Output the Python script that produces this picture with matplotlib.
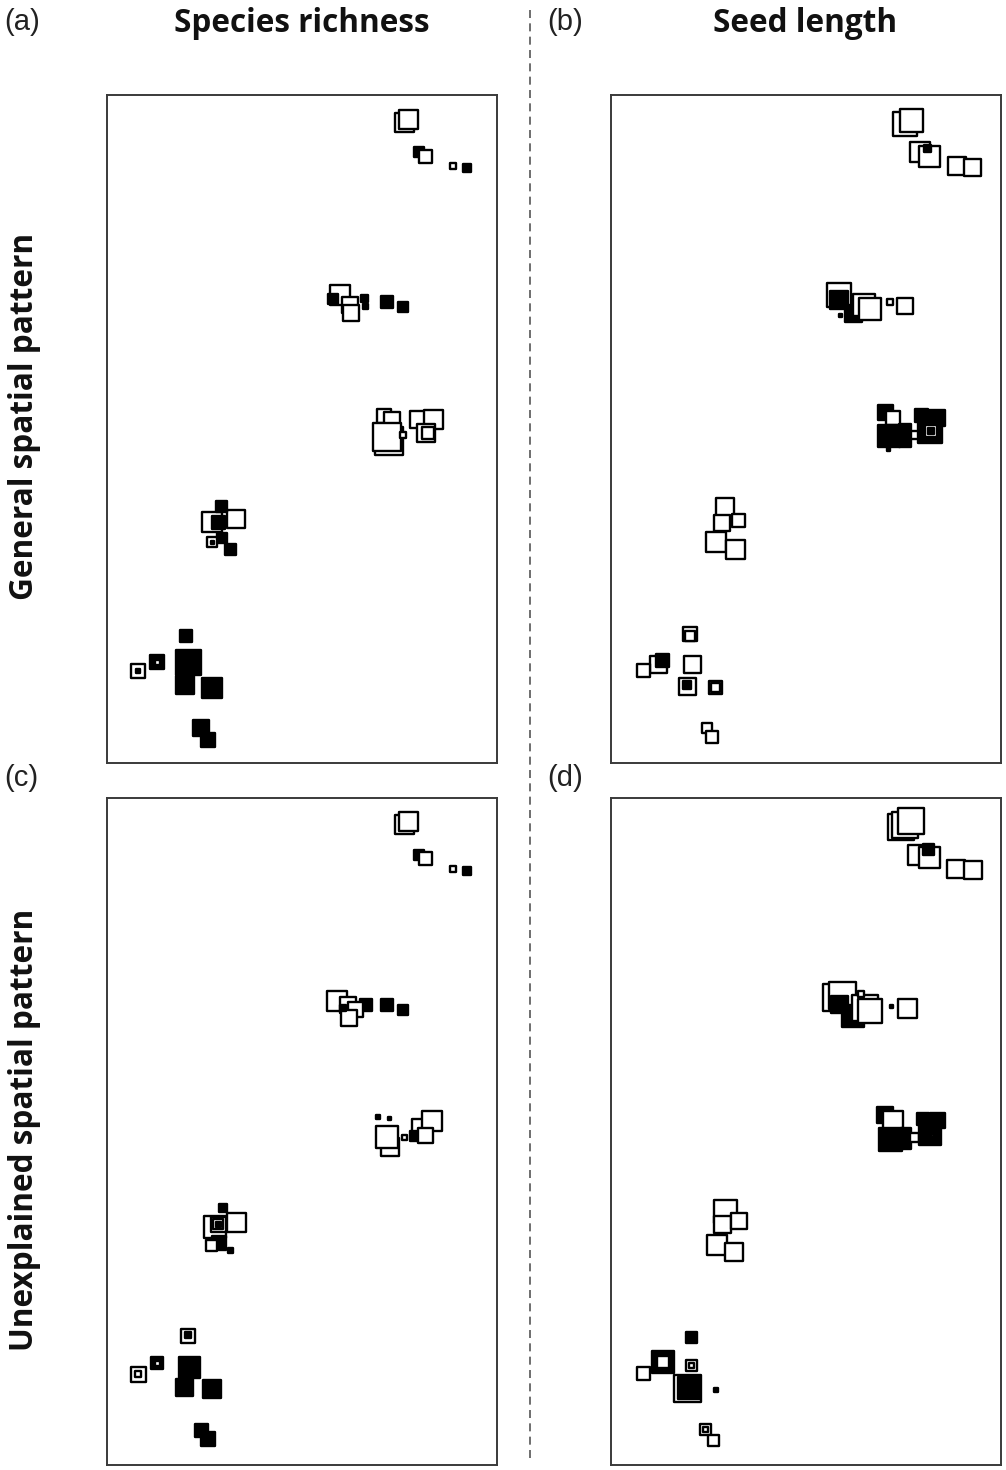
import matplotlib
matplotlib.use("Agg")
import matplotlib.pyplot as plt
from matplotlib.lines import Line2D

# ---------------- data (positions in grid units inside each panel, y measured from top) ----
# Panel (a) Species richness - general spatial pattern
a_x = [297, 301, 312, 318, 346, 360,
       233, 226, 243, 244, 257, 258, 280, 296,
       277, 285, 282, 280, 311, 326, 319, 321, 296,
       105, 129, 114, 111, 115, 105, 105, 123,
       79, 81, 78, 105, 31, 31, 50, 50, 94, 101]
a_y = [27, 24, 57, 61, 71, 73,
       200, 204, 210, 218, 203, 211, 207, 212,
       321, 325, 346, 342, 324, 324, 338, 338, 340,
       427, 424, 411, 427, 443, 447, 447, 454,
       541, 567, 590, 593, 576, 576, 567, 567, 633, 645]
a_size = [19, 19, 10, 13, 6, 8,
          20, 10, 16, 16, 7, 5, 12, 10,
          14, 16, 28, 28, 17, 19, 18, 12, 6,
          20, 18, 11, 13, 10, 10, 3, 11,
          12, 25, 18, 20, 14, 4, 14, 5, 16, 14]
a_fill = [0, 0, 1, 0, 0, 1,
          0, 1, 0, 0, 1, 1, 1, 1,
          0, 0, 0, 0, 0, 0, 0, 0, 0,
          0, 0, 1, 1, 1, 0, 1, 1,
          1, 1, 1, 1, 0, 1, 1, 0, 1, 1]

# Panel (b) Seed length - general spatial pattern
b_x = [294, 300, 309, 318, 316, 346, 361,
       228, 228, 242, 253, 259, 279, 294, 229,
       274, 282, 278, 294, 294, 304, 310, 326, 319, 320, 320, 277,
       114, 111, 127, 105, 124,
       79, 79, 81, 47, 51, 32, 76, 76, 104, 104, 96, 101]
b_y = [29, 25, 57, 61, 53, 71, 72,
       200, 205, 218, 210, 214, 207, 211, 220,
       317, 323, 341, 335, 346, 340, 320, 323, 336, 336, 336, 354,
       412, 428, 425, 447, 454,
       539, 541, 569, 569, 565, 575, 591, 590, 592, 592, 633, 642]
b_size = [24, 23, 20, 21, 7, 18, 17,
          24, 18, 17, 22, 22, 6, 16, 3,
          15, 14, 22, 12, 12, 8, 13, 16, 24, 12, 6, 3,
          18, 16, 13, 20, 19,
          14, 10, 17, 17, 13, 13, 17, 8, 13, 9, 10, 12]
b_fill = [0, 0, 0, 0, 1, 0, 0,
          0, 1, 1, 0, 0, 0, 0, 1,
          1, 0, 1, 1, 1, 0, 1, 1, 1, 0, 1, 1,
          0, 0, 0, 0, 0,
          0, 0, 0, 0, 1, 0, 0, 1, 0, 0, 0, 0]

# Panel (c) Species richness - unexplained spatial pattern
c_x = [297, 301, 312, 318, 346, 360,
       259, 230, 241, 248, 242, 236, 280, 296,
       271, 282, 283, 280, 313, 325, 308, 318, 297,
       108, 112, 116, 129, 111, 111, 111, 104, 123,
       81, 81, 82, 77, 105, 31, 31, 50, 50, 94, 101]
c_y = [27, 24, 57, 61, 71, 73,
       207, 203, 207, 212, 220, 210, 207, 212,
       319, 321, 350, 340, 330, 323, 339, 338, 340,
       430, 446, 411, 425, 427, 427, 427, 448, 453,
       539, 538, 570, 590, 592, 577, 577, 566, 566, 633, 642]
c_size = [19, 19, 10, 13, 6, 8,
          12, 20, 16, 15, 16, 6, 12, 10,
          4, 3, 18, 22, 17, 20, 10, 15, 5,
          22, 14, 8, 19, 15, 10, 5, 11, 5,
          14, 6, 21, 17, 18, 15, 6, 12, 5, 13, 14]
c_fill = [0, 0, 1, 0, 0, 1,
          1, 0, 0, 0, 0, 1, 1, 1,
          1, 1, 0, 0, 0, 0, 1, 0, 0,
          0, 1, 1, 0, 0, 0, 1, 0, 1,
          0, 1, 1, 1, 1, 0, 0, 1, 0, 1, 1]

# Panel (d) Seed length - unexplained spatial pattern
d_x = [290, 294, 300, 307, 318, 317, 345, 362,
       225, 231, 228, 242, 254, 259, 250, 280, 296,
       274, 282, 279, 295, 295, 303, 312, 326, 319, 320, 320,
       114, 111, 128, 106, 123,
       80, 32, 52, 52, 80, 80, 76, 78, 105, 94, 94, 102]
d_y = [29, 27, 23, 57, 60, 52, 71, 72,
       200, 198, 207, 218, 210, 213, 196, 209, 211,
       317, 323, 342, 336, 347, 340, 321, 323, 337, 337, 337,
       414, 427, 424, 448, 455,
       540, 576, 565, 565, 568, 568, 591, 591, 593, 632, 632, 643]
d_size = [26, 26, 26, 20, 21, 11, 18, 18,
          27, 27, 17, 22, 26, 24, 6, 3, 19,
          16, 20, 23, 10, 10, 9, 12, 15, 22, 5, 2,
          23, 17, 16, 20, 18,
          11, 13, 22, 12, 11, 5, 27, 22, 4, 11, 5, 11]
d_fill = [0, 0, 0, 0, 0, 1, 0, 0,
          0, 0, 1, 1, 0, 0, 0, 1, 0,
          1, 0, 1, 1, 1, 0, 1, 1, 1, 0, 1,
          0, 0, 0, 0, 0,
          1, 0, 1, 0, 0, 0, 0, 1, 1, 0, 0, 0]

col_titles = ["Species richness", "Seed length"]
row_titles = ["General spatial pattern", "Unexplained spatial pattern"]
panel_tags = ["(a)", "(b)", "(c)", "(d)"]

# ---------------- figure ----------------
W, H = 1006, 1470
fig = plt.figure(figsize=(W / 100, H / 100), dpi=100)
fig.patch.set_facecolor("white")

boxes = {  # left, top, right, bottom in pixels
    "a": (107, 95, 497, 763),
    "b": (611, 95, 1001, 763),
    "c": (107, 798, 497, 1465),
    "d": (611, 798, 1001, 1465),
}
panels = {
    "a": (a_x, a_y, a_size, a_fill),
    "b": (b_x, b_y, b_size, b_fill),
    "c": (c_x, c_y, c_size, c_fill),
    "d": (d_x, d_y, d_size, d_fill),
}

for key, (l, t, r, btm) in boxes.items():
    ax = fig.add_axes([l / W, 1 - btm / H, (r - l) / W, (btm - t) / H])
    ax.set_xlim(0, 390)
    ax.set_ylim(668, 0)
    ax.set_xticks([])
    ax.set_yticks([])
    for sp in ax.spines.values():
        sp.set_color("#3a3a3a")
        sp.set_linewidth(1.4)
    xs, ys, ss, ff = panels[key]
    face = ["black" if f else "white" for f in ff]
    ax.scatter(xs, ys, s=[(v * 0.72) ** 2 for v in ss], marker="s",
               facecolors=face, edgecolors="black", linewidths=1.7, zorder=3)

# panel tags
tag_pos = [(4, 22), (547, 22), (4, 778), (547, 778)]
for tag, (px, py) in zip(panel_tags, tag_pos):
    fig.text(px / W, 1 - py / H, tag, ha="left", va="center", fontsize=21,
             family="Liberation Sans", color="#222222")

# column titles
for txt, px in zip(col_titles, [302, 805]):
    fig.text(px / W, 1 - 23 / H, txt, ha="center", va="center", fontsize=22.7,
             fontweight="bold", family="Open Sans", color="#111111")

# row titles
for txt, py in zip(row_titles, [416, 1130]):
    fig.text(25 / W, 1 - py / H, txt, ha="center", va="center", fontsize=22.7,
             fontweight="bold", family="Open Sans", rotation=90, color="#111111")

# dashed separator
fig.add_artist(Line2D([530 / W, 530 / W], [1 - 10 / H, 1 - 1462 / H],
                      transform=fig.transFigure, color="#555555", lw=1.2,
                      ls=(0, (4.8, 3.2))))

fig.savefig("out.png", dpi=100)
